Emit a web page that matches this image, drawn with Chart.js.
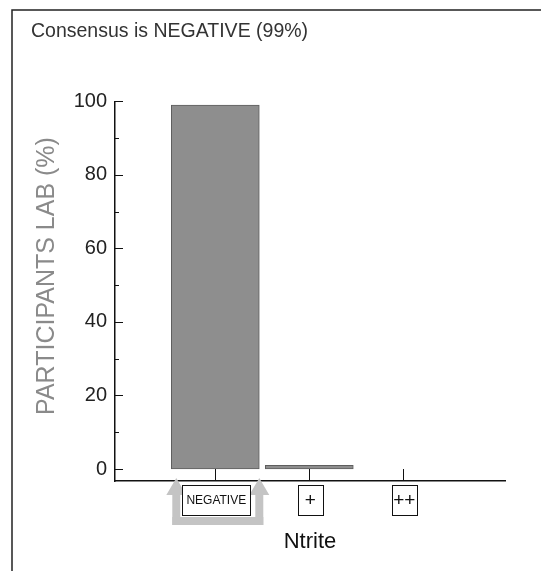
<!DOCTYPE html>
<html>
<head>
<meta charset="utf-8">
<script src="https://cdn.jsdelivr.net/npm/chart.js@4.4.1/dist/chart.umd.min.js"></script>
<style>
  html, body { margin: 0; padding: 0; background: #fff; }
  canvas { display: block; }
</style>
</head>
<body>
<canvas id="nitrite_chart" width="541" height="571"></canvas>
<script>
const categories = ["NEGATIVE", "+", "++"];
const percentLab = [99, 1, 0];
const yTicks = [0, 20, 40, 60, 80, 100];
const yMinorTicks = [10, 30, 50, 70, 90];
const consensusIndex = 0;
const yTitle = "PARTICIPANTS LAB (%)";

const FONT = "'Liberation Sans', Arial, sans-serif";

// frame, inside ticks, y title, boxed category labels and consensus arrows
const decorPlugin = {
  id: "decor",
  afterDraw(chart) {
    const ctx = chart.ctx;
    const x = chart.scales.x;
    const y = chart.scales.y;
    const area = chart.chartArea;
    ctx.save();

    // frame (left + top)
    ctx.strokeStyle = "#222";
    ctx.lineWidth = 1.5;
    ctx.beginPath();
    ctx.moveTo(12, 571);
    ctx.lineTo(12, 10);
    ctx.lineTo(541, 10);
    ctx.stroke();

    // y title
    ctx.save();
    ctx.translate(47, 276);
    ctx.rotate(-Math.PI / 2);
    ctx.font = "25px " + FONT;
    ctx.fillStyle = "#8a8a8a";
    ctx.textAlign = "center";
    ctx.textBaseline = "middle";
    ctx.fillText(yTitle, 0, 0);
    ctx.restore();

    // y ticks pointing inward
    ctx.strokeStyle = "#111";
    ctx.lineWidth = 1;
    ctx.beginPath();
    yTicks.forEach((v) => {
      const py = Math.round(y.getPixelForValue(v)) + 0.5;
      ctx.moveTo(area.left, py);
      ctx.lineTo(area.left + 8, py);
    });
    yMinorTicks.forEach((v) => {
      const py = Math.round(y.getPixelForValue(v)) + 0.5;
      ctx.moveTo(area.left, py);
      ctx.lineTo(area.left + 4, py);
    });
    // x ticks pointing up to the zero line
    const zeroY = y.getPixelForValue(0);
    categories.forEach((c, i) => {
      const px = Math.round(x.getPixelForValue(i)) + 0.5;
      ctx.moveTo(px, area.bottom);
      ctx.lineTo(px, zeroY);
    });
    ctx.stroke();

    // consensus arrows around the consensus label
    const cx = x.getPixelForValue(consensusIndex);
    const tipY = area.bottom - 3;
    const headY = area.bottom + 14;
    const baseTop = area.bottom + 36;
    const baseBottom = area.bottom + 44;
    const arrowXs = [cx - 39, cx + 44];
    ctx.fillStyle = "#c4c4c4";
    arrowXs.forEach((ax) => {
      ctx.beginPath();
      ctx.moveTo(ax, tipY);
      ctx.lineTo(ax + 10, headY);
      ctx.lineTo(ax + 4, headY);
      ctx.lineTo(ax + 4, baseBottom);
      ctx.lineTo(ax - 4, baseBottom);
      ctx.lineTo(ax - 4, headY);
      ctx.lineTo(ax - 10, headY);
      ctx.closePath();
      ctx.fill();
    });
    ctx.fillRect(arrowXs[0] - 4, baseTop, arrowXs[1] - arrowXs[0] + 8, baseBottom - baseTop);

    // boxed category labels
    const boxTop = area.bottom + 4;
    const boxH = 30;
    ctx.strokeStyle = "#111";
    ctx.textAlign = "center";
    ctx.textBaseline = "middle";
    categories.forEach((c, i) => {
      const px = x.getPixelForValue(i) + 1;
      const small = c.length > 2;
      const w = small ? 68 : 25;
      ctx.fillStyle = "#fff";
      ctx.fillRect(px - w / 2, boxTop, w, boxH);
      ctx.strokeRect(Math.round(px - w / 2) + 0.5, boxTop + 0.5, w, boxH);
      ctx.fillStyle = "#111";
      ctx.font = (small ? "12px " : "19px ") + FONT;
      ctx.fillText(c, px, boxTop + boxH / 2 + 1);
    });

    ctx.restore();
  },
};

const ctxNitrite = document.getElementById("nitrite_chart").getContext("2d");
const chartNitrite = new Chart(ctxNitrite, {
  type: "bar",
  data: {
    datasets: [
      {
        label: "Participants",
        data: percentLab.map((v, i) => ({ x: i, y: v })),
        backgroundColor: "#8e8e8e",
        borderColor: "#5e5e5e",
        borderWidth: 1,
        borderSkipped: false,
        barThickness: 88,
      },
    ],
  },
  plugins: [decorPlugin],
  options: {
    responsive: false,
    animation: false,
    devicePixelRatio: 1,
    layout: {
      padding: {
        left: 31,
        right: 36,
        top: 0,
        bottom: 0,
      },
    },
    plugins: {
      legend: { display: false },
      tooltip: { enabled: false },
      title: {
        display: true,
        text: "Consensus is NEGATIVE (99%)",
        align: "start",
        color: "#333",
        font: { family: FONT, size: 19.5, weight: "normal" },
        padding: { top: 20, bottom: 58 },
      },
    },
    scales: {
      x: {
        type: "linear",
        offset: false,
        min: -1.067,
        max: 3.082,
        afterBuildTicks: (s) => {
          s.ticks = categories.map((c, i) => ({ value: i }));
        },
        afterFit: (s) => {
          s.height = 90;
        },
        grid: { display: false, drawTicks: false, offset: false },
        border: { display: true, color: "#111", width: 1.5 },
        ticks: { display: false },
        title: {
          display: true,
          text: "Ntrite",
          color: "#111",
          font: { family: FONT, size: 22 },
          padding: { top: 0, bottom: 16 },
        },
      },
      y: {
        min: -3.26,
        max: 100,
        afterBuildTicks: (s) => {
          s.ticks = yTicks.map((v) => ({ value: v }));
        },
        afterFit: (s) => {
          s.width = 84;
        },
        grid: { display: false, drawTicks: false },
        border: { display: true, color: "#111", width: 1.5 },
        ticks: {
          color: "#222",
          padding: 8,
          font: { family: FONT, size: 20 },
        },
      },
    },
  },
});
</script>
</body>
</html>
